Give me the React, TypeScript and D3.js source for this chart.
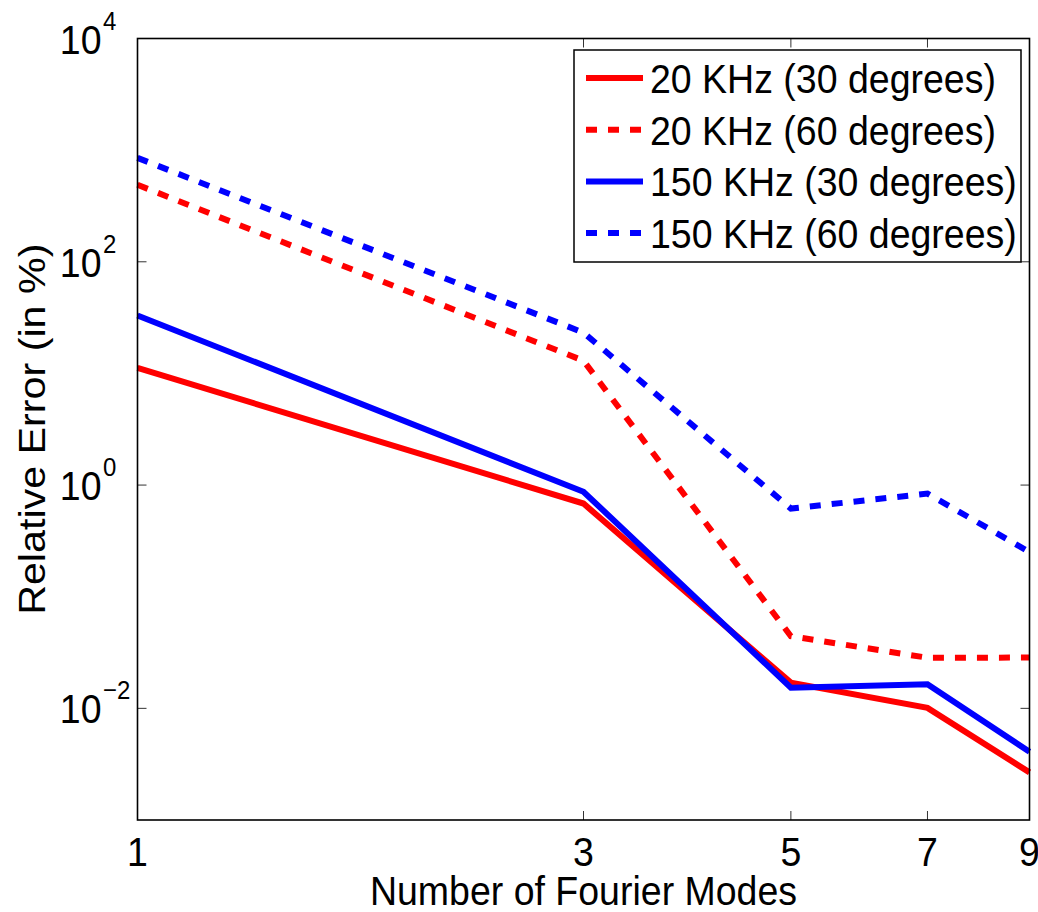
import React from "react";
import * as d3 from "d3";

// Fourier-mode counts on the x axis
const modes = [1, 3, 5, 7, 9];

// Relative error (%) per number of modes
const err20k30 = [11.2, 0.683, 0.017, 0.0101, 0.00267];
const err20k60 = [489, 13.0, 0.0443, 0.0284, 0.0285];
const err150k30 = [33.0, 0.871, 0.0153, 0.0164, 0.00408];
const err150k60 = [853, 23.2, 0.616, 0.839, 0.251];

const seriesLabels = [
  "20 KHz (30 degrees)",
  "20 KHz (60 degrees)",
  "150 KHz (30 degrees)",
  "150 KHz (60 degrees)",
];
const seriesColors = ["#ff0000", "#ff0000", "#0000ff", "#0000ff"];
const seriesDashed = [false, true, false, true];
const seriesValues = [err20k30, err20k60, err150k30, err150k60];

const xTickValues = [1, 3, 5, 7, 9];
const yTickExponents = [-2, 0, 2, 4];

const W = 1038;
const H = 912;
const FONT = "'Liberation Sans', Arial, Helvetica, sans-serif";
const FS = 37.5;
const STRETCH = 1.1;

export default function App() {
  const x = d3.scaleLog().domain([1, 9]).range([137.5, 1029.5]);
  const y = d3.scaleLog().domain([1e-3, 1e4]).range([820, 38.5]);
  const [x0, x1] = x.range();
  const [y0, y1] = [y.range()[1], y.range()[0]];

  const line = d3
    .line<number>()
    .x((_, i) => x(modes[i]))
    .y((d) => y(d));

  const tickLen = 9;
  const legend = { x: 574, y: 50, w: 447, h: 212, row0: 78, rowGap: 51.7 };

  return (
    <svg
      width={W}
      height={H}
      viewBox={`0 0 ${W} ${H}`}
      style={{ position: "absolute", left: 0, top: 0, background: "#fff" }}
      fontFamily={FONT}
    >
      <rect x={0} y={0} width={W} height={H} fill="#fff" />

      {/* series */}
      {seriesValues.map((vals, k) => (
        <path
          key={k}
          d={line(vals) ?? ""}
          fill="none"
          stroke={seriesColors[k]}
          strokeWidth={6}
          strokeDasharray={seriesDashed[k] ? "11 11" : undefined}
          strokeLinejoin="miter"
          strokeLinecap="butt"
        />
      ))}

      {/* ticks */}
      {xTickValues
        .filter((v) => v !== 1 && v !== 9)
        .map((v) => (
          <g key={`xt${v}`} stroke="#333" strokeWidth={1}>
            <line x1={x(v)} x2={x(v)} y1={y1} y2={y1 - tickLen} />
            <line x1={x(v)} x2={x(v)} y1={y0} y2={y0 + tickLen} />
          </g>
        ))}
      {yTickExponents
        .filter((e) => e !== 4)
        .map((e) => (
          <g key={`yt${e}`} stroke="#333" strokeWidth={1}>
            <line x1={x0} x2={x0 + tickLen} y1={y(10 ** e)} y2={y(10 ** e)} />
            <line x1={x1} x2={x1 - tickLen} y1={y(10 ** e)} y2={y(10 ** e)} />
          </g>
        ))}

      {/* axes box */}
      <rect
        x={x0}
        y={y0}
        width={x1 - x0}
        height={y1 - y0}
        fill="none"
        stroke="#000"
        strokeWidth={1.6}
      />

      {/* x tick labels */}
      {xTickValues.map((v) => (
        <text
          key={`xl${v}`}
          transform={`translate(${x(v)},866) scale(1,${STRETCH})`}
          textAnchor="middle"
          fontSize={FS}
          fill="#000"
        >
          {v}
        </text>
      ))}

      {/* y tick labels */}
      {yTickExponents.map((e) => {
        const ty = y(10 ** e);
        return (
          <g key={`yl${e}`} fill="#000">
            <text
              transform={`translate(101.5,${ty + 15}) scale(1,${STRETCH})`}
              textAnchor="end"
              fontSize={FS}
            >
              10
            </text>
            <text
              transform={`translate(103,${ty - 9}) scale(1,${STRETCH})`}
              fontSize={24}
            >
              {e < 0 ? `\u2212${-e}` : `${e}`}
            </text>
          </g>
        );
      })}

      {/* axis titles */}
      <text
        transform={`translate(${(x0 + x1) / 2},905) scale(1,${STRETCH})`}
        textAnchor="middle"
        fontSize={FS}
        fill="#000"
      >
        Number of Fourier Modes
      </text>
      <text
        transform={`translate(45,${(y0 + y1) / 2}) scale(1,${STRETCH}) rotate(-90)`}
        textAnchor="middle"
        fontSize={FS}
        fill="#000"
      >
        Relative Error (in %)
      </text>

      {/* legend */}
      <rect
        x={legend.x}
        y={legend.y}
        width={legend.w}
        height={legend.h}
        fill="#fff"
        stroke="#000"
        strokeWidth={1.5}
      />
      {seriesLabels.map((label, k) => {
        const ry = legend.row0 + k * legend.rowGap;
        return (
          <g key={`lg${k}`}>
            <line
              x1={586}
              x2={643}
              y1={ry}
              y2={ry}
              stroke={seriesColors[k]}
              strokeWidth={6}
              strokeDasharray={seriesDashed[k] ? "11 11" : undefined}
            />
            <text
              transform={`translate(650,${ry + 15}) scale(1,${STRETCH})`}
              fontSize={FS}
              fill="#000"
            >
              {label}
            </text>
          </g>
        );
      })}
    </svg>
  );
}
